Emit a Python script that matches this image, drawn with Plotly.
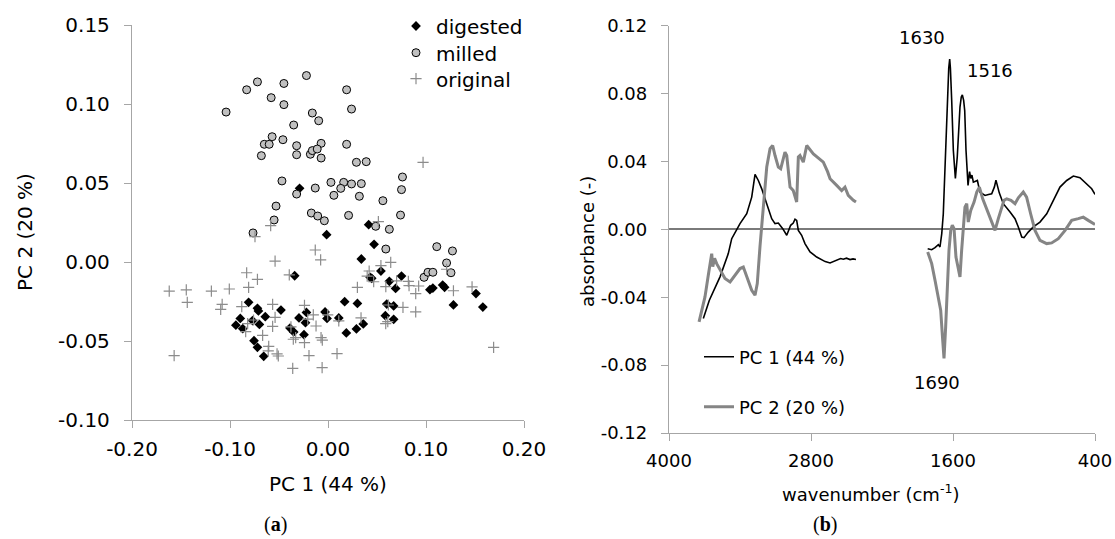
import plotly.graph_objects as go

W, H = 1115, 539

# ---------------- Panel (a): PCA scores ----------------
digested_x = [-0.029, -0.0014, 0.0415, 0.047, 0.034, 0.054, -0.034, 0.043, 0.0446, 0.0626,
              0.075, 0.069, 0.104, 0.107, 0.117, 0.119, 0.128, 0.017, 0.030, 0.060,
              0.067, 0.0585, 0.067, 0.0187, 0.029, 0.036, -0.081, -0.072, -0.071, -0.048,
              -0.0895, -0.094, -0.087, -0.077, -0.070, -0.064, -0.0755, -0.072, -0.0656, -0.0388,
              -0.035, -0.0296, -0.022, -0.023, -0.0245, -0.003, -0.001, 0.011, 0.151, 0.158]
digested_y = [0.0466, 0.0173, 0.0236, 0.0112, 0.0019, -0.0057, -0.0087, -0.0097, -0.0103, -0.0122,
              -0.0089, -0.0167, -0.0175, -0.0165, -0.0146, -0.016, -0.0272, -0.0251, -0.0262, -0.0266,
              -0.0278, -0.034, -0.0363, -0.0449, -0.0424, -0.0392, -0.0255, -0.0293, -0.031, -0.0304,
              -0.0357, -0.040, -0.0422, -0.0371, -0.0395, -0.0346, -0.0498, -0.054, -0.0597, -0.0418,
              -0.0443, -0.0354, -0.0319, -0.0384, -0.046, -0.0316, -0.0357, -0.0354, -0.020, -0.0285]

milled_x = [-0.104, -0.083, -0.072, -0.045, -0.022, 0.019, -0.058, -0.045, 0.024, -0.016,
            -0.0095, -0.035, -0.057, -0.046, -0.065, -0.060, -0.032, -0.007, 0.019, -0.068,
            -0.032, -0.018, -0.016, -0.011, -0.007, 0.029, 0.039, -0.047, 0.003, 0.016,
            0.013, 0.024, 0.034, 0.076, 0.075, -0.013, -0.032, 0.006, 0.032, 0.056,
            -0.053, 0.021, 0.074, -0.055, -0.0765, -0.017, -0.0105, -0.0037, 0.0487, 0.0626,
            0.059, 0.111, 0.127, 0.121, 0.098, 0.102, 0.107, 0.1255]
milled_y = [0.0949, 0.109, 0.114, 0.113, 0.118, 0.109, 0.104, 0.0996, 0.0968, 0.0943,
            0.0894, 0.0867, 0.0793, 0.0774, 0.0745, 0.0745, 0.0736, 0.0751, 0.0745, 0.0673,
            0.0679, 0.0682, 0.0705, 0.0715, 0.0658, 0.0631, 0.0635, 0.0513, 0.0504, 0.0504,
            0.0466, 0.0494, 0.0496, 0.0538, 0.0458, 0.0468, 0.043, 0.0422, 0.0416, 0.0388,
            0.0354, 0.0295, 0.0297, 0.0266, 0.0184, 0.031, 0.0291, 0.0261, 0.0226, 0.0207,
            0.0082, 0.0097, 0.007, -0.0006, -0.0097, -0.0065, -0.0065, -0.0068]

original_x = [-0.162, -0.1446, -0.1436, -0.119, -0.1007, -0.157, -0.108, -0.1095, -0.083, -0.081,
              -0.072, -0.0745, -0.0585, -0.054, -0.088, -0.084, -0.0667, -0.0605, -0.061, -0.052,
              -0.0507, -0.0565, -0.054, -0.0565, -0.082, -0.076, -0.036, -0.0378, -0.0354, -0.033,
              -0.024, -0.024, -0.0194, -0.0122, -0.0071, -0.0058, -0.006, 0.0092, 0.011, -0.0395,
              -0.013, -0.0075, -0.0207, -0.015, -0.0003, 0.030, 0.0337, 0.0514, 0.054, 0.064,
              0.042, 0.040, 0.0466, 0.059, 0.0616, 0.061, 0.0589, 0.0765, 0.070, 0.082,
              0.0827, 0.0895, 0.0895, 0.0925, 0.121, 0.128, 0.147, 0.169, 0.097]
original_y = [-0.0184, -0.0177, -0.0255, -0.0184, -0.0171, -0.0593, -0.0268, -0.030, -0.0068, -0.016,
              -0.011, 0.016, 0.023, 0.0006, -0.0283, -0.0441, -0.0464, -0.0534, -0.0563, -0.0582,
              -0.0595, -0.0268, -0.035, -0.0407, -0.039, -0.0367, -0.0673, -0.0411, -0.0489, -0.0479,
              -0.0274, -0.051, -0.0593, -0.0405, -0.0479, -0.0494, -0.0669, -0.058, -0.0373, -0.0082,
              0.0076, 0.0013, -0.0361, -0.0335, -0.0335, -0.016, -0.0354, 0.0255, -0.0023, -0.0002,
              -0.0057, -0.009, -0.0125, -0.0156, -0.0272, -0.0378, -0.039, -0.0287, -0.012, -0.0122,
              -0.015, -0.020, -0.0316, -0.0152, -0.0046, -0.0182, -0.0158, -0.054, 0.0631]

a_xticks = [-0.20, -0.10, 0.00, 0.10, 0.20]
a_xticktext = ["-0.20", "-0.10", "0.00", "0.10", "0.20"]
a_yticks = [-0.10, -0.05, 0.00, 0.05, 0.10, 0.15]
a_yticktext = ["-0.10", "-0.05", "0.00", "0.05", "0.10", "0.15"]

# ---------------- Panel (b): loadings ----------------
pc1_wn = [3710, 3659, 3569, 3499, 3470, 3428, 3400, 3343, 3301, 3273,
          3245, 3217, 3174, 3132, 3104, 3076, 3039, 3005, 2972, 2950,
          2935, 2921, 2907, 2879, 2851, 2808, 2752, 2724, 2680, 2639,
          2600, 2583, 2550, 2527, 2500, 2470, 2445, 2420,
          None,
          1814, 1780, 1752, 1724, 1710, 1695, 1682, 1667, 1648, 1636,
          1628, 1622, 1611, 1597, 1580, 1564, 1541, 1530, 1521, 1510,
          1501, 1490, 1473, 1460, 1450, 1440, 1428, 1394, 1372, 1329,
          1300, 1273, 1250, 1237, 1209, 1175, 1118, 1076, 1048, 1019,
          1000, 964, 921, 865, 808, 752, 696, 639, 583, 527,
          470, 428, 400]
pc1_val = [-0.0525, -0.0418, -0.028, -0.0143, -0.0055, 0.0004, 0.0034, 0.0092, 0.019, 0.0324,
           0.0288, 0.024, 0.0151, 0.0063, 0.0034, 0.0037, 0.0004, -0.0035, 0.0024, 0.0037,
           0.0060, 0.0053, -0.0006, -0.0035, -0.0084, -0.0133, -0.0163, -0.0172, -0.0190, -0.0198,
           -0.0185, -0.0182, -0.0172, -0.0176, -0.0170, -0.0178, -0.0174, -0.0178,
           None,
           -0.0114, -0.0120, -0.0108, -0.0090, -0.0104, -0.0025, 0.0092, 0.0367, 0.0759, 0.0950,
           0.1004, 0.0950, 0.0759, 0.0465, 0.0300, 0.0426, 0.0720, 0.0780, 0.0792, 0.0760,
           0.0700, 0.0465, 0.0259, 0.0340, 0.0300, 0.0320, 0.0278, 0.0288, 0.0219, 0.0200,
           0.0205, 0.0210, 0.0250, 0.0290, 0.0215, 0.0151, 0.0102, 0.0063, 0.0014, -0.0045,
           -0.0049, -0.0016, 0.0014, 0.0043, 0.0092, 0.0171, 0.0249, 0.0288, 0.0314, 0.0304,
           0.0269, 0.0239, 0.0206]

pc2_wn = [3746, 3724, 3696, 3668, 3650, 3639, 3630, 3615, 3597, 3569,
          3527, 3484, 3442, 3400, 3372, 3343, 3301, 3273, 3254, 3231,
          3208, 3174, 3146, 3124, 3104, 3076, 3056, 3020, 3005, 2977,
          2950, 2921, 2907, 2893, 2865, 2836, 2780, 2740, 2696, 2660,
          2639, 2583, 2541, 2513, 2485, 2442, 2420,
          None,
          1814, 1780, 1752, 1724, 1704, 1687, 1676, 1662, 1648, 1634,
          1619, 1606, 1591, 1575, 1558, 1541, 1527, 1513, 1499, 1484,
          1471, 1450, 1422, 1399, 1377, 1349, 1315, 1273, 1245, 1217,
          1188, 1169, 1146, 1110, 1076, 1048, 1006, 978, 944, 907,
          865, 808, 766, 710, 653, 597, 541, 499, 457, 428,
          400]
pc2_val = [-0.0545, -0.0476, -0.0398, -0.0270, -0.0200, -0.0143, -0.0220, -0.0170, -0.0202, -0.0241,
           -0.0290, -0.0310, -0.0270, -0.0231, -0.0222, -0.0280, -0.0359, -0.0388, -0.0320, -0.0100,
           0.0100, 0.0367, 0.0475, 0.0494, 0.0435, 0.0367, 0.0357, 0.0455, 0.0435, 0.0249,
           0.0229, 0.0161, 0.0426, 0.0435, 0.0396, 0.0494, 0.0445, 0.0420, 0.0396, 0.0340,
           0.0298, 0.0259, 0.0229, 0.0249, 0.0200, 0.0171, 0.0161,
           None,
           -0.0133, -0.0202, -0.0300, -0.0398, -0.0476, -0.0653, -0.0760, -0.0575, -0.0320, -0.0124,
           -0.0006, 0.0024, 0.0004, -0.0163, -0.0222, -0.0280, -0.0124, 0.0020, 0.0131, 0.0151,
           0.0043, 0.0112, 0.0161, 0.0220, 0.0249, 0.0180, 0.0122, 0.0053, -0.0006, 0.0063,
           0.0122, 0.0171, 0.0180, 0.0171, 0.0151, 0.0186, 0.0220, 0.0190, 0.0092, -0.0006,
           -0.0065, -0.0084, -0.0080, -0.0055, -0.0006, 0.0053, 0.0063, 0.0072, 0.0053, 0.0043,
           0.0029]

b_xticks = [4000, 2800, 1600, 400]
b_xticktext = ["4000", "2800", "1600", "400"]
b_yticks = [-0.12, -0.08, -0.04, 0.00, 0.04, 0.08, 0.12]
b_yticktext = ["-0.12", "-0.08", "-0.04", "0.00", "0.04", "0.08", "0.12"]

peak_labels = ["1630", "1516", "1690"]
peak_label_x = [1860, 1288, 1735]
peak_label_y = [0.1128, 0.0934, -0.0900]

FONT = "DejaVu Sans"
AXC = "#a6a6a6"

def px(x):
    return x / W

def py(y):
    return 1 - y / H

fig = go.Figure()

fig.add_trace(go.Scatter(x=digested_x, y=digested_y, mode="markers", name="digested",
                         marker=dict(symbol="diamond", size=7.5, color="black",
                                     line=dict(width=0)),
                         xaxis="x", yaxis="y", legend="legend", showlegend=True))
fig.add_trace(go.Scatter(x=milled_x, y=milled_y, mode="markers", name="milled",
                         marker=dict(symbol="circle", size=8, color="#c0c0c0",
                                     line=dict(width=1, color="black")),
                         xaxis="x", yaxis="y", legend="legend3", showlegend=True))
fig.add_trace(go.Scatter(x=original_x, y=original_y, mode="markers", name="original",
                         marker=dict(symbol="cross-thin", size=8,
                                     line=dict(width=1.2, color="#8c8c8c")),
                         xaxis="x", yaxis="y", legend="legend4", showlegend=True))

fig.add_trace(go.Scatter(x=pc1_wn, y=pc1_val, mode="lines", name="PC 1 (44 %)",
                         line=dict(color="black", width=1.6), connectgaps=False,
                         xaxis="x2", yaxis="y2", legend="legend2", showlegend=True))
fig.add_trace(go.Scatter(x=pc2_wn, y=pc2_val, mode="lines", name="PC 2 (20 %)",
                         line=dict(color="#858585", width=3), connectgaps=False,
                         xaxis="x2", yaxis="y2", legend="legend5", showlegend=True))

common_axis = dict(showline=True, linecolor=AXC, linewidth=1.3, ticks="outside",
                   ticklen=7, tickcolor=AXC, tickwidth=1.3, showgrid=False,
                   fixedrange=True)


def leg(xp, yp, size):
    return dict(x=px(xp), y=py(yp), xanchor="left", yanchor="middle",
                font=dict(size=size, family=FONT), bgcolor="rgba(0,0,0,0)",
                borderwidth=0, visible=True)


fig.update_layout(
    width=W, height=H,
    showlegend=True,
    margin=dict(l=0, r=0, t=0, b=0, pad=0, autoexpand=False),
    paper_bgcolor="white", plot_bgcolor="white",
    hovermode=False,
    font=dict(family=FONT, color="black"),
    xaxis=dict(domain=[px(132), px(524)], range=[-0.2, 0.2], anchor="y",
               tickvals=a_xticks, ticktext=a_xticktext, zeroline=False,
               tickfont=dict(size=20, family=FONT), ticklabelstandoff=4, **common_axis),
    yaxis=dict(domain=[py(420), py(25)], range=[-0.10, 0.15], anchor="x",
               tickvals=a_yticks, ticktext=a_yticktext, zeroline=False,
               tickfont=dict(size=20, family=FONT), ticklabelstandoff=10, **common_axis),
    xaxis2=dict(domain=[px(669), px(1095)], range=[4000, 400], anchor="y2",
                tickvals=b_xticks, ticktext=b_xticktext, zeroline=False,
                tickfont=dict(size=18, family=FONT), ticklabelstandoff=4, **common_axis),
    yaxis2=dict(domain=[py(433), py(25.7)], range=[-0.12, 0.12], anchor="x2",
                tickvals=b_yticks, ticktext=b_yticktext,
                tickfont=dict(size=18, family=FONT), ticklabelstandoff=10,
                zeroline=True, zerolinecolor="#7a7a7a", zerolinewidth=2, **common_axis),
    legend=leg(396, 26, 20),
    legend3=leg(396, 52.7, 20),
    legend4=leg(396, 78.7, 20),
    legend2=leg(699, 357, 18),
    legend5=leg(699, 407, 18),
)

annotations = []
for t, xv, yv in zip(peak_labels, peak_label_x, peak_label_y):
    annotations.append(dict(text=t, x=xv, y=yv, xref="x2", yref="y2", showarrow=False,
                            font=dict(size=18, family=FONT), xanchor="center", yanchor="middle"))

titles = [
    ("PC 1 (44 %)", 328, 484, 0, 20, FONT),
    ("PC 2 (20 %)", 25, 232, -90, 20, FONT),
    ("wavenumber (cm<sup>-1</sup>)", 871, 493, 0, 18, FONT),
    ("absorbance (-)", 587, 242, -90, 18, FONT),
    ("(<b>a</b>)", 275, 524, 0, 20, "Liberation Serif"),
    ("(<b>b</b>)", 825, 524, 0, 20, "Liberation Serif"),
]
for t, xp, yp, ang, sz, fam in titles:
    annotations.append(dict(text=t, x=px(xp), y=py(yp), xref="paper", yref="paper",
                            showarrow=False, textangle=ang, xanchor="center", yanchor="middle",
                            font=dict(size=sz, family=fam)))

fig.update_layout(annotations=annotations)

fig.write_html("out.html")
